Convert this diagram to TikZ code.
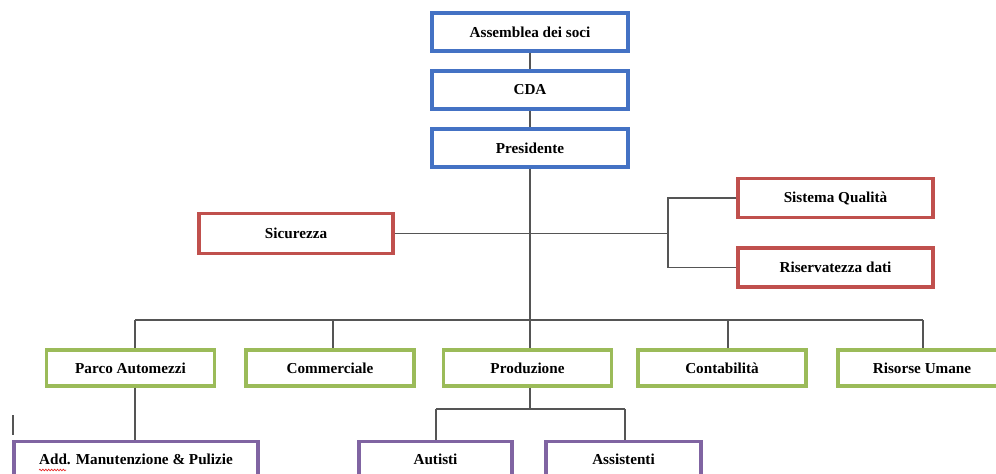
\documentclass[tikz,border=0pt]{standalone}
\usepackage{fontspec}
\setmainfont{Liberation Serif}
\usetikzlibrary{decorations.pathmorphing}
\definecolor{cblue}{RGB}{68,114,196}
\definecolor{cred}{RGB}{192,80,77}
\definecolor{cgreen}{RGB}{155,187,89}
\definecolor{cpurple}{RGB}{128,100,162}
\definecolor{cline}{RGB}{85,85,85}
\definecolor{cspell}{RGB}{230,40,40}
\tikzset{
  orgbox/.style={draw, line width=2.4pt, fill=white, inner sep=0pt,
    font=\fontsize{11.4pt}{13pt}\selectfont\bfseries, text=black},
  bluebox/.style={orgbox, draw=cblue, minimum width=196*0.75pt, minimum height=38*0.75pt},
  redbox/.style={orgbox, draw=cred, minimum width=195*0.75pt, minimum height=39*0.75pt},
  greenbox/.style={orgbox, draw=cgreen, minimum width=168*0.75pt, minimum height=36*0.75pt},
  purplebox/.style={orgbox, draw=cpurple, minimum height=35*0.75pt},
  conn/.style={draw=cline, line width=0.8pt},
  spell/.style={draw=cspell, line width=0.5pt, decorate,
    decoration={snake, amplitude=0.6pt, segment length=2.2pt}}
}
\begin{document}
\begin{tikzpicture}[x=0.75pt, y=-0.75pt]
\useasboundingbox (0,0) rectangle (996,474);
\clip (0,0) rectangle (996,474);
\fill[white] (0,0) rectangle (996,474);
% top chain
\node[bluebox] (ass) at (530,32) {Assemblea dei soci};
\node[bluebox] (cda) at (530,90) {CDA};
\node[bluebox] (pres) at (530,148) {Presidente};
% staff
\node[redbox, minimum width=194*0.75pt, minimum height=40*0.75pt] (sic) at (296,233.5) {Sicurezza};
\node[redbox] (sq) at (835.5,198) {Sistema Qualità};
\node[redbox] (ris) at (835.5,267.5) {Riservatezza dati};
% departments
\node[greenbox] (parco) at (130.5,368) {Parco Automezzi};
\node[greenbox] (comm) at (330,368) {Commerciale};
\node[greenbox] (prod) at (527.5,368) {Produzione};
\node[greenbox] (cont) at (722,368) {Contabilità};
\node[greenbox] (ru) at (922,368) {Risorse Umane};
% bottom
\node[purplebox, minimum width=244*0.75pt] (add) at (136,459) {Add. Manutenzione \& Pulizie};
\node[purplebox, minimum width=153*0.75pt] (aut) at (435.5,459) {Autisti};
\node[purplebox, minimum width=155*0.75pt] (assi) at (623.5,459) {Assistenti};
% connectors
\coordinate (bus) at (530,320);
\coordinate (bl) at (135,320);
\coordinate (br) at (923,320);
\coordinate (bcomm) at (333,320);
\coordinate (bcont) at (728,320);
\coordinate (brk) at (668,233.5);
\coordinate (pb) at (530,409);
\coordinate (pl) at (436,409);
\coordinate (pr) at (625,409);
\coordinate (mt) at (13,415);
\coordinate (mb) at (13,435);
\coordinate (sp1) at (39,470);
\coordinate (sp2) at (66,470);
\draw[conn] (ass.south) -- (cda.north);
\draw[conn] (cda.south) -- (pres.north);
\draw[conn] (pres.south) -- (bus);
\draw[conn] (sic.east) -- (sic.east -| brk);
\draw[conn] (sq.west) -| (brk) |- (ris.west);
\draw[conn] (bl) -- (br);
\draw[conn] (bl) -- (bl |- parco.north);
\draw[conn] (bcomm) -- (bcomm |- comm.north);
\draw[conn] (bus) -- (bus |- prod.north);
\draw[conn] (bcont) -- (bcont |- cont.north);
\draw[conn] (br) -- (br |- ru.north);
\draw[conn] (bl |- parco.south) -- (bl |- add.north);
\draw[conn] (bus |- prod.south) -- (pb);
\draw[conn] (pl) -- (pr);
\draw[conn] (pl) -- (pl |- aut.north);
\draw[conn] (pr) -- (pr |- assi.north);
\draw[conn] (mt) -- (mb);
\draw[spell] (sp1) -- (sp2);
\end{tikzpicture}
\end{document}
